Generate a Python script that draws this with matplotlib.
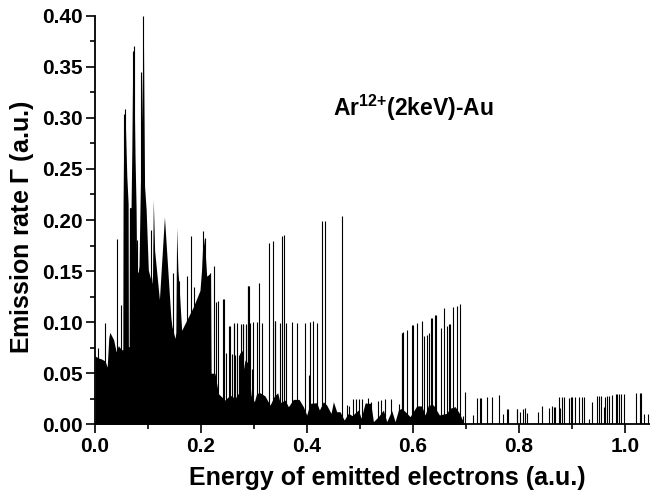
import matplotlib
matplotlib.use('Agg')
import matplotlib.pyplot as plt
from matplotlib.ticker import MultipleLocator, FormatStrFormatter

# dense part of the spectrum (outline of the black area)
env_energy = [0.000, 0.006, 0.012, 0.019, 0.023, 0.026, 0.028, 0.035, 0.040, 0.044, 0.050, 0.0525,
              0.053, 0.054, 0.057, 0.060, 0.0625, 0.063, 0.0645, 0.065, 0.068, 0.0695, 0.071, 0.073,
              0.0755, 0.0775, 0.0786, 0.0815, 0.083, 0.0874, 0.0912, 0.0935, 0.0965, 0.1006, 0.107, 0.1085, 0.110,
              0.1125, 0.1215, 0.131, 0.143, 0.145, 0.151, 0.1525, 0.154, 0.1565, 0.158, 0.1635, 0.173, 0.1855, 0.198,
              0.201, 0.204, 0.2075, 0.2107, 0.218, 0.219, 0.2264, 0.2327, 0.2453, 0.2547, 0.2642, 0.2705,
              0.2767, 0.2830, 0.2893, 0.2944, 0.3006, 0.3050, 0.3113, 0.3208, 0.3302, 0.3384, 0.3447, 0.3491,
              0.3585, 0.3648, 0.3742, 0.3849, 0.3931, 0.3994, 0.4057, 0.4183, 0.4233, 0.4308, 0.4371, 0.4453,
              0.4497, 0.4560, 0.4623, 0.470, 0.478, 0.485, 0.4969, 0.502, 0.5095, 0.5202, 0.5252, 0.5346,
              0.5441, 0.5503, 0.5598, 0.5661, 0.5724, 0.5786, 0.586, 0.5944, 0.6070, 0.6164, 0.6227, 0.6290,
              0.6384, 0.6497, 0.6635, 0.6698, 0.6793, 0.6875, 0.697]
env_rate = [0.067, 0.065, 0.064, 0.062, 0.056, 0.085, 0.090, 0.083, 0.071, 0.077, 0.073, 0.073,
            0.215, 0.272, 0.300, 0.243, 0.216, 0.076, 0.076, 0.212, 0.212, 0.268, 0.347, 0.360,
            0.262, 0.213, 0.149, 0.149, 0.155, 0.285, 0.392, 0.233, 0.210, 0.151, 0.138, 0.145, 0.220,
            0.170, 0.122, 0.203, 0.105, 0.096, 0.084, 0.090, 0.193, 0.150, 0.140, 0.092, 0.102, 0.115, 0.131,
            0.151, 0.185, 0.171, 0.145, 0.148, 0.050, 0.050, 0.030, 0.0237, 0.0286, 0.0254, 0.0303,
            0.0433, 0.0629, 0.0596, 0.0286, 0.0221, 0.0303, 0.0309, 0.0277, 0.0188, 0.0277, 0.0309, 0.0211,
            0.0237, 0.0172, 0.0244, 0.0244, 0.0172, 0.0091, 0.0205, 0.0211, 0.0140, 0.0221, 0.0188, 0.0107,
            0.0221, 0.0123, 0.0123, 0.0042, 0.0108, 0.0085, 0.0140, 0.0060, 0.0206, 0.0206, 0.0026, 0.0075,
            0.0140, 0.0026, 0.0134, 0.0026, 0.0140, 0.0157, 0.0120, 0.0075, 0.0180, 0.0180, 0.0091, 0.0189,
            0.0189, 0.0091, 0.0108, 0.0157, 0.0173, 0.0108, 0.000]

# single lines standing above the dense part
line_energy = [0.006, 0.019, 0.041, 0.049, 0.054, 0.057, 0.066, 0.0711, 0.073, 0.080, 0.0874, 0.0912,
               0.105, 0.148, 0.158, 0.174, 0.182, 0.186, 0.204, 0.208, 0.217, 0.2245, 0.228, 0.232,
               0.242, 0.244, 0.247, 0.252, 0.255, 0.258, 0.262, 0.263, 0.265, 0.267, 0.268, 0.271, 0.273, 0.275, 0.277, 0.279,
               0.280, 0.284, 0.285, 0.288, 0.289, 0.290, 0.292, 0.297, 0.299, 0.306, 0.309, 0.315,
               0.329, 0.336, 0.339, 0.340, 0.349, 0.352, 0.357, 0.360, 0.371, 0.381, 0.396, 0.404,
               0.406, 0.412, 0.418, 0.429, 0.433, 0.466]
line_rate = [0.075, 0.0995, 0.181, 0.117, 0.304, 0.309, 0.212, 0.365, 0.370, 0.180, 0.345, 0.400,
             0.190, 0.148, 0.140, 0.145, 0.184, 0.134, 0.189, 0.182, 0.148, 0.155, 0.120, 0.121,
             0.123, 0.123, 0.070, 0.096, 0.096, 0.069, 0.098, 0.099, 0.068, 0.099, 0.066, 0.068, 0.070, 0.098, 0.072, 0.098,
             0.098, 0.098, 0.097, 0.135, 0.135, 0.135, 0.099, 0.054, 0.100, 0.100, 0.138, 0.099,
             0.177, 0.179, 0.101, 0.101, 0.099, 0.184, 0.185, 0.099, 0.100, 0.099, 0.099, 0.048,
             0.100, 0.101, 0.099, 0.199, 0.199, 0.204]

# small lines between 0.47 and 0.80
mid_energy = [0.4749, 0.4800, 0.4875, 0.4919, 0.4988, 0.5044, 0.5115, 0.5158, 0.5202, 0.5334, 0.5390,
              0.5472, 0.5579, 0.5742, 0.5786, 0.5800, 0.5818, 0.589, 0.5988, 0.6000, 0.607, 0.6176, 0.6208,
              0.626, 0.631, 0.6334, 0.635, 0.641, 0.643, 0.652, 0.6585, 0.6636, 0.668, 0.670, 0.675, 0.6837,
              0.6887, 0.698, 0.6937, 0.7126, 0.7214, 0.7265, 0.729, 0.7403, 0.749, 0.7617, 0.770, 0.778,
              0.780, 0.7956]
mid_rate = [0.0189, 0.0180, 0.0248, 0.0248, 0.0248, 0.0248, 0.0212, 0.0255, 0.0220, 0.0232, 0.0238,
            0.0248, 0.0248, 0.0199, 0.089, 0.089, 0.090, 0.092, 0.097, 0.097, 0.0995, 0.101, 0.086,
            0.0875, 0.089, 0.104, 0.104, 0.107, 0.107, 0.094, 0.1135, 0.096, 0.098, 0.098, 0.1145, 0.116,
            0.118, 0.032, 0.008, 0.009, 0.0255, 0.0255, 0.026, 0.027, 0.027, 0.029, 0.010, 0.0147,
            0.0147, 0.015]

# tail of the spectrum
tail_energy = [0.797, 0.802, 0.807, 0.811, 0.8157, 0.8365, 0.843, 0.8566, 0.8616, 0.865, 0.868, 0.8755,
               0.878, 0.8805, 0.885, 0.894, 0.8975, 0.900, 0.9056, 0.9138, 0.918, 0.9226, 0.9327, 0.9384,
               0.9478, 0.9516, 0.954, 0.9604, 0.962, 0.9666, 0.969, 0.976, 0.9824, 0.985, 0.9887,
               0.9925, 0.9987, 1.020, 1.0277, 1.030, 1.0365, 1.044]
tail_rate = [0.0147, 0.012, 0.0147, 0.0157, 0.0114, 0.0124, 0.018, 0.016, 0.018, 0.0173, 0.0173, 0.027,
             0.016, 0.027, 0.027, 0.0255, 0.027, 0.027, 0.027, 0.027, 0.027, 0.027, 0.005, 0.0215,
             0.028, 0.028, 0.028, 0.0173, 0.0264, 0.028, 0.028, 0.0287, 0.0294, 0.0294, 0.0294,
             0.0297, 0.0297, 0.0303, 0.0303, 0.0303, 0.0101, 0.0101]

x_ticks = [0.0, 0.2, 0.4, 0.6, 0.8, 1.0]
y_ticks = [0.00, 0.05, 0.10, 0.15, 0.20, 0.25, 0.30, 0.35, 0.40]

plt.rcParams['font.family'] = 'Liberation Sans'
plt.rcParams['font.weight'] = 'bold'
plt.rcParams['mathtext.fontset'] = 'custom'
plt.rcParams['mathtext.rm'] = 'Liberation Sans'
plt.rcParams['mathtext.bf'] = 'Liberation Sans:bold'

fig = plt.figure(figsize=(6.5, 4.96), dpi=100)
ax = fig.add_axes([95 / 650, 1 - 424.3 / 496, 555 / 650, 408.6 / 496])

ax.fill_between(env_energy, 0, env_rate, color='black', lw=0)
ax.vlines(line_energy, 0, line_rate, color='black', lw=0.8)
ax.vlines(mid_energy, 0, mid_rate, color='black', lw=0.8)
ax.vlines(tail_energy, 0, tail_rate, color='black', lw=0.8)

ax.set_xlim(0, 1.047)
ax.set_ylim(0, 0.40)
ax.set_xticks(x_ticks)
ax.set_yticks(y_ticks)
ax.xaxis.set_major_formatter(FormatStrFormatter('%.1f'))
ax.yaxis.set_major_formatter(FormatStrFormatter('%.2f'))
ax.xaxis.set_minor_locator(MultipleLocator(0.1))
ax.yaxis.set_minor_locator(MultipleLocator(0.025))
ax.tick_params(which='major', length=6.5, width=1.2, labelsize=15, pad=2.5)
ax.tick_params(which='minor', length=3.6, width=1.2)

ax.spines['top'].set_visible(False)
ax.spines['right'].set_visible(False)
ax.spines['left'].set_linewidth(1.3)
ax.spines['bottom'].set_linewidth(1.3)
ax.spines['bottom'].set_zorder(5)

ax.set_xlabel('Energy of emitted electrons (a.u.)', fontsize=18, fontweight='bold')
ax.set_ylabel(r'Emission rate $\mathrm{\Gamma}$ (a.u.)', fontsize=18, fontweight='bold')
ax.xaxis.set_label_coords(0.526, -0.103)
ax.yaxis.set_label_coords(-0.107, 0.482)
ax.text(0.449, 0.3018, r'Ar$^{\mathbf{12{+}}}$(2keV)-Au', fontsize=16.5, fontweight='bold', va='baseline')

fig.savefig('out.png', dpi=100)
